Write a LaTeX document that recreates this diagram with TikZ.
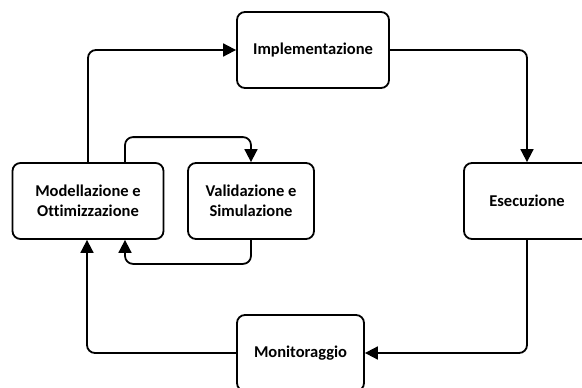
\documentclass[tikz,border=0pt]{standalone}
\usepackage{fontspec}
\setmainfont[Ligatures=NoCommon]{Carlito}
\usetikzlibrary{arrows.meta,calc}
\begin{document}
\begin{tikzpicture}[x=1pt,y=-1pt,
  box/.style={draw,line width=1.8pt,rounded corners=8pt,align=center,
    font=\fontsize{16.5}{19.5}\selectfont\bfseries,inner sep=0pt},
  arr/.style={line width=1.8pt,rounded corners=8pt,-{Triangle[length=13pt,width=13pt]}}]
\clip (0,0) rectangle (582,388);
\node[box,minimum width=152pt,minimum height=76pt] (impl) at (313,50) {Implementazione};
\node[box,minimum width=126pt,minimum height=76pt] (ese) at (527,201) {Esecuzione};
\node[box,minimum width=127pt,minimum height=76pt] (mon) at (300.5,353) {Monitoraggio};
\node[box,minimum width=151pt,minimum height=76pt] (mod) at (88,201) {Modellazione e\\Ottimizzazione};
\node[box,minimum width=126pt,minimum height=76pt] (val) at (251,201) {Validazione e\\Simulazione};
\draw[arr] (mod.north) |- (impl.west);
\draw[arr] (impl.east) -| (ese.north);
\draw[arr] (ese.south) |- (mon.east);
\draw[arr] (mon.west) -| ($(mod.south)+(-1,0)$);
\draw[arr] ($(mod.north)+(37,0)$) -- ++(0,-25) -| (val.north);
\draw[arr] (val.south) -- ++(0,24) -| ($(mod.south)+(37,0)$);
\end{tikzpicture}
\end{document}
